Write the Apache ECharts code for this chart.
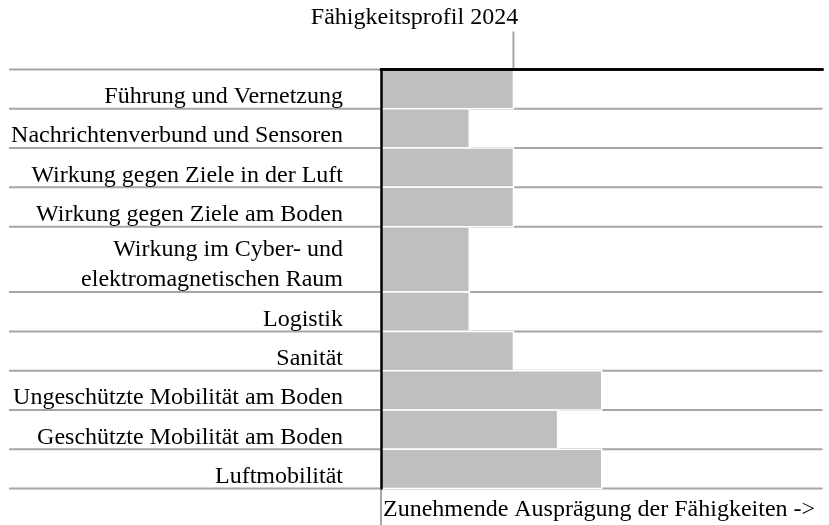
<!DOCTYPE html>
<html>
<head>
<meta charset="utf-8">
<script src="https://cdn.jsdelivr.net/npm/echarts@6/dist/echarts.min.js"></script>
<style>html,body{margin:0;padding:0;background:#fff;}#c{width:829px;height:525px;}</style>
</head>
<body>
<div id="c"></div>
<script>
const categories = [
  'Führung und Vernetzung',
  'Nachrichtenverbund und Sensoren',
  'Wirkung gegen Ziele in der Luft',
  'Wirkung gegen Ziele am Boden',
  'Wirkung im Cyber- und\nelektromagnetischen Raum',
  'Logistik',
  'Sanität',
  'Ungeschützte Mobilität am Boden',
  'Geschützte Mobilität am Boden',
  'Luftmobilität'
];
const values = [3, 2, 3, 3, 2, 2, 3, 5, 4, 5];
const profileMarker = 3;
const xMin = 0;
const xMax = 10;
const titleText = 'Fähigkeitsprofil 2024';
const axisTitle = 'Zunehmende Ausprägung der Fähigkeiten ->';

// row sizes derived from label line count
const rowSize = categories.map(c => c.split('\n').length + 0.5);
const rowStart = [];
let acc = 0;
rowSize.forEach(s => { rowStart.push(acc); acc += s; });
const total = acc;

const FONT = '"Liberation Serif", "Times New Roman", serif';
const SEP = '#a6a6a6';

function renderItem(params, api) {
  const i = params.dataIndex;
  const v = api.value(0);
  const y0 = rowStart[i], y1 = y0 + rowSize[i];
  const p0 = api.coord([xMin, y0]);
  const p1 = api.coord([v, y1]);
  const pr = api.coord([xMax, y0]);
  const pb = api.coord([xMax, y1]);
  const children = [];
  children.push({type: 'line', z2: 0, shape: {x1: 9, y1: p0[1], x2: pr[0], y2: p0[1]}, style: {stroke: SEP, lineWidth: 2}});
  if (i === categories.length - 1) {
    children.push({type: 'line', z2: 0, shape: {x1: 9, y1: pb[1], x2: pb[0], y2: pb[1]}, style: {stroke: SEP, lineWidth: 2}});
    children.push({type: 'line', z2: 0, shape: {x1: p0[0], y1: pb[1], x2: p0[0], y2: api.getHeight()}, style: {stroke: SEP, lineWidth: 2}});
  }
  if (i === 0) {
    const m = api.coord([profileMarker, 0]);
    children.push({type: 'line', z2: 0, shape: {x1: m[0], y1: m[1], x2: m[0], y2: m[1] - 38}, style: {stroke: SEP, lineWidth: 2}});
  }
  children.push({type: 'rect', z2: 1, shape: {x: p0[0], y: p0[1], width: p1[0] - p0[0], height: p1[1] - p0[1]},
    style: {fill: '#bfbfbf', stroke: '#ffffff', lineWidth: 1.5}});
  children.push({type: 'text', z2: 2, style: {
    x: p0[0] - 38, y: p1[1] + 3, text: categories[i], align: 'right', verticalAlign: 'bottom',
    font: '24px ' + FONT, lineHeight: 30, fill: '#000'
  }});
  return {type: 'group', children};
}

const chart = echarts.init(document.getElementById('c'), null, {renderer: 'canvas'});
chart.setOption({
  animation: false,
  backgroundColor: '#fff',
  title: [
    {text: titleText, left: 'center', top: 6, padding: 0,
     textStyle: {fontFamily: FONT, fontSize: 24, fontWeight: 'normal', color: '#000'}},
    {text: axisTitle, left: 383, top: 498, padding: 0,
     textStyle: {fontFamily: FONT, fontSize: 24, fontWeight: 'normal', color: '#000'}}
  ],
  grid: {left: 381, right: 6.5, top: 69.5, bottom: 36.5, containLabel: false},
  xAxis: [
    {type: 'value', min: xMin, max: xMax, position: 'bottom', z: 5,
     axisLine: {show: true, lineStyle: {color: '#000', width: 2.5}},
     axisTick: {show: false}, axisLabel: {show: false}, splitLine: {show: false}},
    {type: 'value', min: xMin, max: xMax, position: 'top', z: 5,
     axisLine: {show: true, lineStyle: {color: '#000', width: 2.5}},
     axisTick: {show: false}, axisLabel: {show: false}, splitLine: {show: false}}
  ],
  yAxis: {type: 'value', min: 0, max: total, inverse: true, z: 5,
    axisLine: {show: true, onZero: false, lineStyle: {color: '#000', width: 2.5}},
    axisTick: {show: false}, axisLabel: {show: false}, splitLine: {show: false}},
  series: [{
    type: 'custom',
    renderItem: renderItem,
    clip: false,
    encode: {x: 0, y: 1},
    data: values.map((v, i) => [v, i])
  }]
});
</script>
</body>
</html>
